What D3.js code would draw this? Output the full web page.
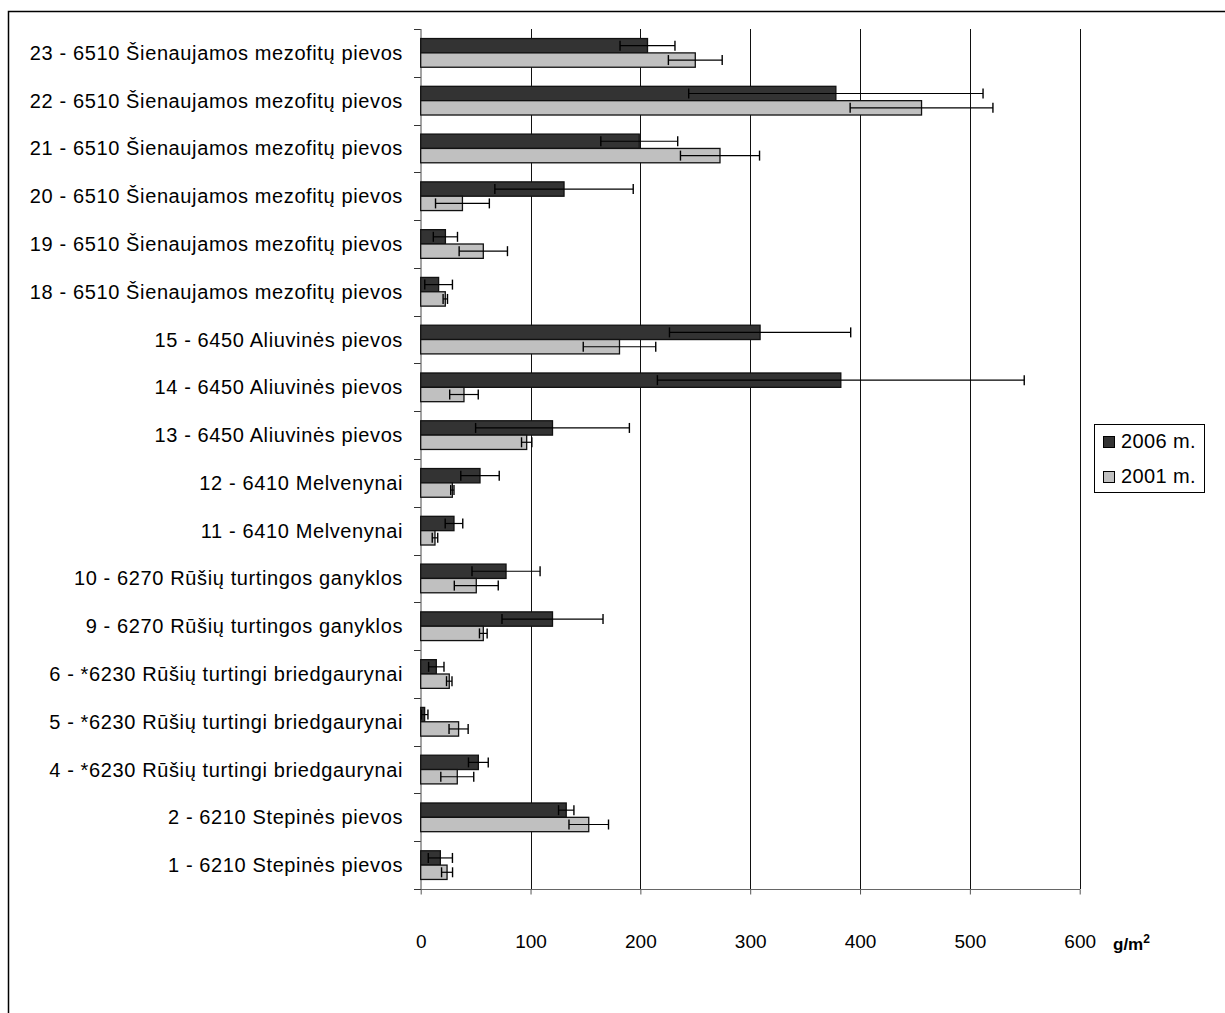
<!DOCTYPE html>
<html>
<head>
<meta charset="utf-8">
<script src="https://cdn.jsdelivr.net/npm/d3@7"></script>
<style>
  html, body { margin: 0; padding: 0; background: #fff; }
  svg { display: block; }
  text { font-family: "Liberation Sans", Arial, sans-serif; fill: #000; }
</style>
</head>
<body>
<svg id="chart" width="1225" height="1013"></svg>
<script>
// Site labels, top to bottom
const categories = [
  "23 - 6510 Šienaujamos mezofitų pievos",
  "22 - 6510 Šienaujamos mezofitų pievos",
  "21 - 6510 Šienaujamos mezofitų pievos",
  "20 - 6510 Šienaujamos mezofitų pievos",
  "19 - 6510 Šienaujamos mezofitų pievos",
  "18 - 6510 Šienaujamos mezofitų pievos",
  "15 - 6450 Aliuvinės pievos",
  "14 - 6450 Aliuvinės pievos",
  "13 - 6450 Aliuvinės pievos",
  "12 - 6410 Melvenynai",
  "11 - 6410 Melvenynai",
  "10 - 6270 Rūšių turtingos ganyklos",
  "9 - 6270 Rūšių turtingos ganyklos",
  "6 - *6230 Rūšių turtingi briedgaurynai",
  "5 - *6230 Rūšių turtingi briedgaurynai",
  "4 - *6230 Rūšių turtingi briedgaurynai",
  "2 - 6210 Stepinės pievos",
  "1 - 6210 Stepinės pievos"
];

// Series names (legend order)
const seriesNames = ["2006 m.", "2001 m."];

// Mean values, g/m2
const values2006 = [206.5, 378, 199, 130.5, 22.5, 16.3, 309, 382.5, 120, 54, 30.3, 77.7, 120, 14.2, 3.6, 52.5, 132.5, 17.9];
const values2001 = [250, 456, 272.5, 38, 57, 22.4, 181, 39.4, 96.5, 28.8, 13, 50.6, 57, 26, 34.5, 33.3, 153, 24];

// Error half-widths, g/m2
const errors2006 = [25, 134, 35, 63, 11, 12.6, 82.5, 167, 70, 17.5, 8, 31, 46, 7, 3, 9, 7, 11];
const errors2001 = [24.5, 65, 36, 24.5, 22, 2, 33, 13, 4.7, 1.5, 2.5, 20, 3.5, 2.5, 8.7, 15, 18, 5];

// Value axis ticks
const xTicks = [0, 100, 200, 300, 400, 500, 600];

const seriesColors = ["#333333", "#c0c0c0"];

const svg = d3.select("#chart");

// Outer chart frame
svg.append("rect")
  .attr("x", 8.5).attr("y", 11.5)
  .attr("width", 1400).attr("height", 1200)
  .attr("fill", "none").attr("stroke", "#000").attr("stroke-width", 1.5);

const x = d3.scaleLinear().domain([0, 600]).range([420.7, 1079.7]);
const y = d3.scaleBand().domain(categories).range([29, 889]).padding(0);
const ySub = d3.scaleBand().domain(seriesNames).range([0, y.bandwidth()])
  .paddingInner(0).paddingOuter(0.665);

const plotTop = 29, plotBottom = 889;

// Vertical gridlines
svg.append("g")
  .selectAll("line")
  .data(xTicks.slice(1))
  .join("line")
  .attr("x1", d => Math.round(x(d)) + 0.5).attr("x2", d => Math.round(x(d)) + 0.5)
  .attr("y1", plotTop).attr("y2", plotBottom)
  .attr("stroke", "#111").attr("stroke-width", 1);

// Bottom value axis
const xAxis = svg.append("g")
  .attr("transform", `translate(0,${plotBottom + 0.5})`)
  .call(d3.axisBottom(x).tickValues(xTicks).tickSize(5).tickSizeOuter(0).tickPadding(53)
    .tickFormat(d3.format("d")));
xAxis.select(".domain").remove();
xAxis.selectAll(".tick line").attr("stroke", "#555");
xAxis.selectAll(".tick text")
  .attr("font-size", 19)
  .attr("font-family", "Liberation Sans, Arial, sans-serif")
  .attr("dy", "0");
svg.append("line")
  .attr("x1", 414).attr("x2", x(600) + 0.5)
  .attr("y1", plotBottom + 0.5).attr("y2", plotBottom + 0.5)
  .attr("stroke", "#666").attr("stroke-width", 1.2);

// Unit label
const unit = svg.append("text")
  .attr("x", 1113).attr("y", 950)
  .attr("font-size", 17).attr("font-weight", "bold");
unit.append("tspan").text("g/m");
unit.append("tspan").attr("dy", -7).attr("font-size", 12).text("2");

// Left category axis: boundary ticks and labels
const boundaries = categories.map(c => y(c)).concat([plotBottom]);
svg.append("g")
  .selectAll("line")
  .data(boundaries)
  .join("line")
  .attr("x1", 414).attr("x2", 421)
  .attr("y1", d => Math.round(d) + 0.5).attr("y2", d => Math.round(d) + 0.5)
  .attr("stroke", "#333").attr("stroke-width", 1);
svg.append("line")
  .attr("x1", 421).attr("x2", 421)
  .attr("y1", plotTop).attr("y2", plotBottom)
  .attr("stroke", "#666").attr("stroke-width", 1.2);

svg.append("g")
  .selectAll("text")
  .data(categories)
  .join("text")
  .attr("x", 403)
  .attr("y", d => y(d) + y.bandwidth() / 2)
  .attr("dy", "0.35em")
  .attr("text-anchor", "end")
  .attr("font-size", 20)
  .attr("letter-spacing", 0.62)
  .text(d => d);

// Bars and error bars
const rows = categories.map((c, i) => ({
  cat: c,
  items: [
    { s: seriesNames[0], v: values2006[i], e: errors2006[i], color: seriesColors[0] },
    { s: seriesNames[1], v: values2001[i], e: errors2001[i], color: seriesColors[1] }
  ]
}));

const groups = svg.append("g")
  .selectAll("g")
  .data(rows)
  .join("g")
  .attr("transform", d => `translate(0,${y(d.cat)})`);

groups.selectAll("rect")
  .data(d => d.items)
  .join("rect")
  .attr("x", x(0))
  .attr("y", d => ySub(d.s))
  .attr("width", d => x(d.v) - x(0))
  .attr("height", ySub.bandwidth())
  .attr("fill", d => d.color)
  .attr("stroke", "#111")
  .attr("stroke-width", 1.3);

const err = groups.selectAll("g.err")
  .data(d => d.items)
  .join("g")
  .attr("class", "err")
  .attr("transform", d => `translate(0,${ySub(d.s) + ySub.bandwidth() / 2})`);

err.append("line")
  .attr("x1", d => x(Math.max(0, d.v - d.e))).attr("x2", d => x(d.v + d.e))
  .attr("y1", 0).attr("y2", 0)
  .attr("stroke", "#000").attr("stroke-width", 1.2);
err.append("line")
  .attr("x1", d => x(Math.max(0, d.v - d.e))).attr("x2", d => x(Math.max(0, d.v - d.e)))
  .attr("y1", -5).attr("y2", 5)
  .attr("stroke", "#000").attr("stroke-width", 1.4);
err.append("line")
  .attr("x1", d => x(d.v + d.e)).attr("x2", d => x(d.v + d.e))
  .attr("y1", -5).attr("y2", 5)
  .attr("stroke", "#000").attr("stroke-width", 1.4);

// Legend
const legend = svg.append("g");
legend.append("rect")
  .attr("x", 1094.5).attr("y", 424.5)
  .attr("width", 110).attr("height", 68)
  .attr("fill", "#fff").attr("stroke", "#000").attr("stroke-width", 1);
const legendItems = legend.selectAll("g.item")
  .data(seriesNames)
  .join("g")
  .attr("class", "item")
  .attr("transform", (d, i) => `translate(1103,${448 + i * 35})`);
legendItems.append("rect")
  .attr("x", 0.5).attr("y", -11.5)
  .attr("width", 11).attr("height", 11)
  .attr("fill", (d, i) => seriesColors[i])
  .attr("stroke", "#000").attr("stroke-width", 1);
legendItems.append("text")
  .attr("x", 18).attr("y", 0)
  .attr("font-size", 20)
  .attr("letter-spacing", 0.4)
  .text(d => d);
</script>
</body>
</html>
